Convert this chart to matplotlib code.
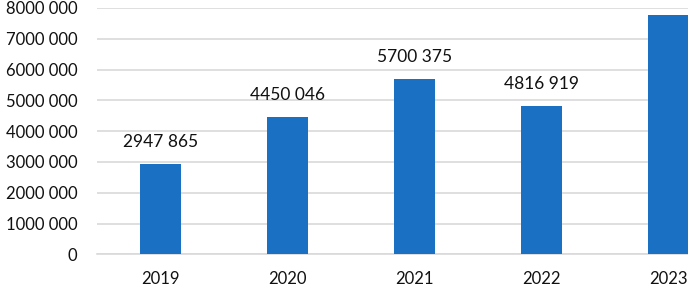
import matplotlib
matplotlib.use('Agg')
import matplotlib.pyplot as plt
from matplotlib.ticker import FuncFormatter

years = ['2019', '2020', '2021', '2022', '2023']
values = [2947865, 4450046, 5700375, 4816919, 7780000]
# the 2023 label sits above the cropped top of the original, so it is not shown
show_label = [True, True, True, True, False]
ytick_vals = [0, 1000000, 2000000, 3000000, 4000000, 5000000, 6000000, 7000000, 8000000]


def fmt(v, pos=None):
	# "2947 865" style: only the last group is split
	v = int(round(v))
	if v < 1000:
		return str(v)
	return '%d %03d' % (v // 1000, v % 1000)


plt.rcParams['font.family'] = ['Lato', 'DejaVu Sans']
fig = plt.figure(figsize=(6.88, 2.88), dpi=100)
# axes run past the right edge, the original is cropped there
ax = fig.add_axes([97 / 688, 33.7 / 288, 635 / 688, 246.4 / 288])

x = range(len(years))
ax.bar(x, values, width=0.315, color='#1a71c4', zorder=3)
for i, v in enumerate(values):
	if not show_label[i]:
		continue
	ax.annotate(fmt(v), (i, v), xytext=(0, 10), textcoords='offset points',
		ha='center', va='bottom', fontsize=12.5, color='#111111')

ax.set_xlim(-0.5, len(years) - 0.5)
ax.set_ylim(0, 8000000)
ax.set_yticks(ytick_vals)
ax.yaxis.set_major_formatter(FuncFormatter(fmt))
ax.set_xticks(list(x))
ax.set_xticklabels(years)
ax.tick_params(axis='both', length=0, labelsize=12, colors='#111111')
ax.tick_params(axis='y', pad=14)
ax.tick_params(axis='x', pad=12)
ax.grid(axis='y', color='#d9d9d9', linewidth=1.2, zorder=0)
for s in ('top', 'right', 'left'):
	ax.spines[s].set_visible(False)
ax.spines['bottom'].set_color('#d9d9d9')
ax.spines['bottom'].set_linewidth(1.2)

fig.savefig('out.png', dpi=100)
